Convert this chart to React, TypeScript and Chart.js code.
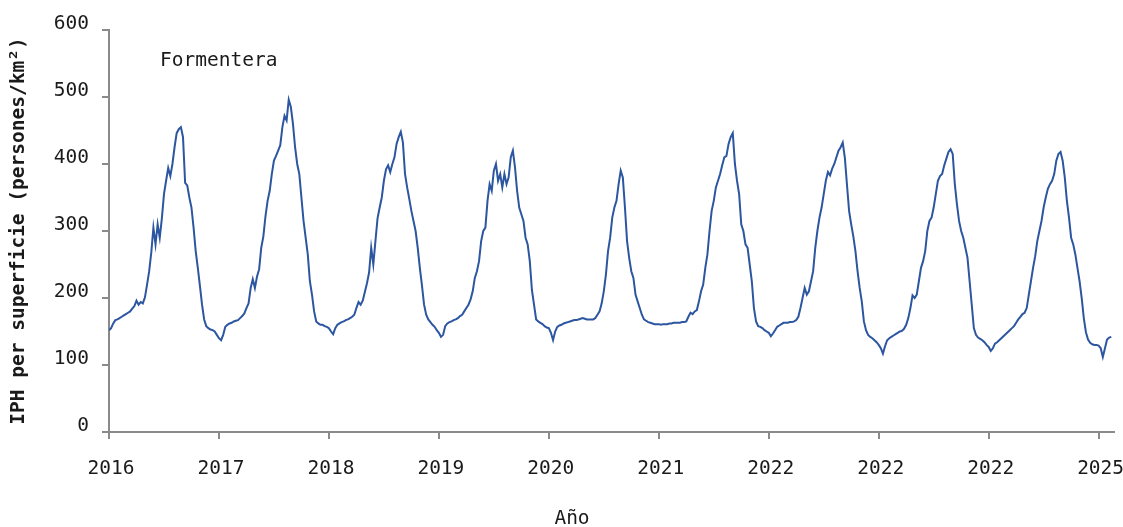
import React, { useEffect, useRef } from "react";
import { Chart, registerables } from "chart.js";

Chart.register(...registerables);

// Weekly IPH per unit area (persons/km²), Formentera; one array per year, week 0 = 1 January
const iph2016 = [152, 155, 162, 167, 168, 170, 172, 174, 176, 178, 180, 184, 188, 196, 190, 194, 192, 201, 220, 240, 268, 305, 280, 310, 290, 319, 355, 375, 394, 382, 400, 425, 446, 452, 455, 440, 372, 368, 350, 335, 305, 270, 245, 218, 190, 168, 158, 155, 153, 152, 150, 145];
const iph2017 = [140, 137, 145, 157, 160, 162, 163, 165, 166, 167, 170, 173, 177, 185, 192, 215, 228, 215, 232, 243, 275, 292, 322, 345, 360, 385, 405, 412, 420, 428, 455, 472, 465, 496, 485, 460, 425, 400, 385, 350, 315, 290, 265, 225, 205, 180, 165, 162, 160, 160, 158, 157];
const iph2018 = [155, 150, 146, 155, 160, 162, 164, 165, 167, 168, 170, 172, 175, 185, 194, 190, 196, 209, 222, 238, 275, 250, 285, 319, 335, 350, 375, 392, 398, 388, 400, 410, 430, 440, 448, 432, 385, 365, 348, 330, 315, 300, 275, 245, 219, 190, 175, 168, 164, 160, 157, 152];
const iph2019 = [148, 142, 145, 158, 162, 164, 165, 167, 168, 170, 173, 175, 180, 185, 190, 198, 210, 230, 240, 255, 285, 300, 305, 345, 370, 360, 390, 400, 375, 385, 365, 385, 370, 380, 410, 420, 395, 360, 335, 325, 315, 290, 280, 255, 212, 190, 168, 165, 163, 161, 158, 156];
const iph2020 = [155, 148, 137, 150, 157, 159, 160, 162, 163, 164, 165, 166, 167, 167, 168, 169, 170, 169, 168, 168, 168, 168, 170, 175, 180, 192, 210, 235, 270, 290, 320, 335, 345, 370, 390, 380, 335, 285, 260, 240, 230, 205, 195, 185, 175, 168, 166, 164, 163, 162, 161, 161];
const iph2021 = [161, 160, 161, 161, 161, 162, 162, 163, 163, 163, 163, 164, 164, 165, 172, 178, 176, 180, 182, 195, 210, 220, 245, 265, 300, 330, 345, 365, 375, 385, 398, 410, 412, 430, 440, 446, 400, 375, 355, 310, 300, 280, 275, 250, 225, 185, 165, 158, 157, 155, 152, 150];
const iph2022 = [148, 143, 147, 152, 157, 159, 161, 163, 163, 163, 164, 164, 165, 167, 172, 185, 200, 215, 205, 210, 225, 240, 275, 300, 320, 335, 355, 375, 388, 383, 393, 400, 410, 420, 425, 432, 409, 369, 330, 310, 292, 270, 240, 215, 195, 165, 152, 145, 142, 140, 137, 134];
const iph2023 = [130, 125, 117, 128, 137, 140, 142, 144, 146, 148, 150, 151, 154, 160, 170, 185, 204, 200, 205, 225, 245, 255, 270, 300, 315, 320, 335, 355, 375, 382, 385, 398, 408, 418, 422, 415, 370, 340, 315, 300, 290, 275, 260, 225, 190, 155, 145, 141, 139, 137, 134, 130];
const iph2024 = [127, 121, 125, 132, 134, 137, 140, 143, 146, 149, 152, 155, 158, 163, 168, 172, 176, 178, 185, 205, 225, 245, 262, 285, 300, 315, 335, 350, 363, 370, 375, 385, 405, 415, 418, 405, 380, 345, 320, 290, 280, 265, 245, 225, 200, 170, 149, 138, 133, 131, 130, 130];
const iph2025 = [129, 125, 112, 125, 138, 141, 142];

const seriesByYear: [number, number[]][] = [
  [2016, iph2016],
  [2017, iph2017],
  [2018, iph2018],
  [2019, iph2019],
  [2020, iph2020],
  [2021, iph2021],
  [2022, iph2022],
  [2023, iph2023],
  [2024, iph2024],
  [2025, iph2025],
];

const yearTicks = [2016, 2017, 2018, 2019, 2020, 2021, 2022, 2023, 2024, 2025];
const yearTickLabels = ["2016", "2017", "2018", "2019", "2020", "2021", "2022", "2022", "2022", "2025"];
const yTicks = [0, 100, 200, 300, 400, 500, 600];

const seriesName = "Formentera";
const xTitle = "Año";
const yTitle = "IPH per superficie (persones/km²)";

const FONT = "'DejaVu Sans Mono', 'Liberation Mono', monospace";
const FONT_SIZE = 19.5;
const AXIS_GREY = "#8a8a8a";
const TEXT = "#1a1a1a";
const LINE_BLUE = "#2c56a0";

const points = seriesByYear.flatMap(([year, values]) =>
  values.map((v, i) => ({ x: year + i / 52, y: v }))
);

const textPlugin = {
  id: "annotations",
  afterDraw(chart: Chart) {
    const { ctx, chartArea } = chart;
    ctx.save();
    ctx.fillStyle = TEXT;
    ctx.font = `${FONT_SIZE}px ${FONT}`;
    ctx.textBaseline = "alphabetic";
    ctx.textAlign = "left";
    ctx.fillText(seriesName, chartArea.left + 51, chartArea.top + 36);
    ctx.textAlign = "center";
    ctx.fillText(xTitle, 572, chart.height - 3);
    ctx.restore();
  },
};

export default function App() {
  const canvasRef = useRef<HTMLCanvasElement | null>(null);

  useEffect(() => {
    document.body.style.margin = "0";
    const canvas = canvasRef.current;
    if (!canvas) return;
    Chart.defaults.font.family = FONT;

    const chart = new Chart(canvas, {
      type: "line",
      data: {
        datasets: [
          {
            label: seriesName,
            data: points,
            borderColor: LINE_BLUE,
            borderWidth: 2,
            pointRadius: 0,
            tension: 0,
            fill: false,
          },
        ],
      },
      options: {
        animation: false,
        responsive: true,
        maintainAspectRatio: false,
        parsing: false as any,
        layout: { padding: { left: 0, right: 9, top: 30, bottom: 0 } },
        plugins: {
          legend: { display: false },
          tooltip: { enabled: false },
        },
        scales: {
          x: {
            type: "linear",
            min: 2016,
            max: 2025.14,
            afterBuildTicks: (scale: any) => {
              scale.ticks = yearTicks.map((v) => ({ value: v }));
            },
            afterFit: (scale: any) => {
              scale.height = 95;
              scale.paddingLeft = 0;
              scale.paddingRight = 0;
            },
            border: { display: true, color: AXIS_GREY, width: 2 },
            grid: {
              display: true,
              drawOnChartArea: false,
              drawTicks: true,
              tickLength: 7,
              color: AXIS_GREY,
              lineWidth: 2,
            },
            ticks: {
              autoSkip: false,
              maxRotation: 0,
              padding: 18,
              labelOffset: 2,
              color: TEXT,
              font: { size: FONT_SIZE, family: FONT },
              callback: (value: any) => {
                const idx = yearTicks.indexOf(Math.round(Number(value)));
                return idx >= 0 ? yearTickLabels[idx] : "";
              },
            },
            title: { display: false },
          },
          y: {
            type: "linear",
            min: 0,
            max: 600,
            afterBuildTicks: (scale: any) => {
              scale.ticks = yTicks.map((v) => ({ value: v }));
            },
            afterFit: (scale: any) => {
              scale.width = 109;
              scale.paddingTop = 0;
              scale.paddingBottom = 0;
            },
            border: { display: true, color: AXIS_GREY, width: 2 },
            grid: {
              display: true,
              drawOnChartArea: false,
              drawTicks: true,
              tickLength: 7,
              color: AXIS_GREY,
              lineWidth: 2,
            },
            ticks: {
              padding: 13,
              labelOffset: -6,
              color: TEXT,
              font: { size: FONT_SIZE, family: FONT },
            },
            title: {
              display: true,
              text: yTitle,
              color: TEXT,
              font: { size: FONT_SIZE, family: FONT, weight: "bold" },
              padding: { top: 7, bottom: 0 },
            },
          },
        },
      },
      plugins: [textPlugin],
    });

    return () => chart.destroy();
  }, []);

  return (
    <div style={{ position: "absolute", left: 0, top: 0, width: 1123, height: 527 }}>
      <canvas ref={canvasRef} />
    </div>
  );
}
